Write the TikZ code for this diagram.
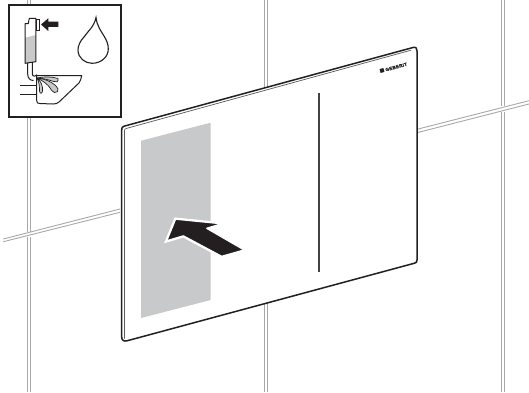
\documentclass[tikz,border=0pt]{standalone}
\usepackage{fontspec}
\setmainfont{Liberation Sans}
\newfontfamily\logofont[FakeBold=1.2,LetterSpace=6]{Liberation Sans Bold}
\definecolor{tile}{HTML}{A8A8A8}
\definecolor{panelgray}{HTML}{C8C9CA}
\definecolor{ink}{HTML}{231F20}
\tikzset{
  tileline/.style={draw=tile,line width=.9pt},
  plateedge/.style={draw=ink,line width=1.5pt,line join=round},
  plateinner/.style={draw=ink!75,line width=.7pt},
  iconline/.style={draw=ink,line width=1pt,line join=round},
  water/.style={draw=ink,line width=.7pt,fill=panelgray,line join=round}
}
\begin{document}
\begin{tikzpicture}[x=1pt,y=-1pt]
\useasboundingbox (0,0) rectangle (529,392);
% wall tile joints
\foreach \x in {27.2,30}{
  \draw[tileline] (\x,0) -- (\x,231.5);
  \draw[tileline] (\x,236.5) -- (\x,392);
}
\foreach \x in {264.3,267}{
  \draw[tileline] (\x,0) -- (\x,392);
}
\foreach \x in {501.8,504.4}{
  \draw[tileline] (\x,0) -- (\x,106);
  \draw[tileline] (\x,112) -- (\x,392);
}
\draw[tileline] (3.3,239) -- (120,209);
\draw[tileline] (3.3,241.7) -- (120,212.3);
\draw[tileline] (417,129.3) -- (529,100.7);
\draw[tileline] (417,132.7) -- (529,104);
% plate
\path[fill=white,draw=none] (121.7,127) -- (415,47) -- (417,50) -- (417,262) -- (125,341) -- (121.7,338) -- cycle;
\draw[plateedge] (121.7,130) .. controls (121.7,127.5) and (122,127) .. (124,126.2) -- (413,47.5) .. controls (416,46.8) and (417,48) .. (417,51) -- (417,260) .. controls (417,262) and (416.5,262.6) .. (414.5,263.2) -- (127,340.8) .. controls (124,341.5) and (121.7,340.5) .. (121.7,337) -- cycle;
\draw[plateinner] (124.4,338.5) -- (124.4,131) .. controls (124.4,129.5) and (125,128.8) .. (126.5,128.4) -- (411,50.2);
% slot
\draw[draw=ink!85,line width=1.6pt] (319.2,93) -- (319.2,271.7);
% grey zone
\fill[panelgray] (141,140.7) -- (210.7,122.7) -- (210.7,300) -- (141,318) -- cycle;
% big arrow
\path[fill=ink,draw=white,line width=1.6pt,line join=round,preaction={draw=white,line width=3pt}] (175.5,219) -- (222.5,223.7) -- (207,228.3) -- (244.5,250) -- (221.7,256.5) -- (183.3,236) -- (166.5,241) -- cycle;
% logo
\fill[ink,rotate around={15:(382,70.5)}] (380,68.5) rectangle (384,72.5);
\node[rotate=15,inner sep=0pt,font=\logofont\fontsize{4.6}{5}\selectfont,text=ink] (logo) at (396.2,67) {GEBERIT};
% inset
\draw[draw=ink,line width=1.6pt,fill=white] (8.7,4.7) rectangle (120.7,116.7);
% cistern
\fill[panelgray] (25,37.8) -- (35.7,35) -- (35.7,61.7) -- (25,63.3) -- cycle;
\draw[iconline] (25,63.3) -- (25,23.5) -- (28.3,23.5) -- (29.3,18.3) -- (35.8,18.3) -- (35.8,61.7) -- cycle;
\draw[draw=ink,line width=.8pt] (36,19.5) rectangle (39.3,30.7);
\fill[ink] (41,24.5) -- (48.3,18.3) -- (48.3,21.7) -- (58.3,21.7) -- (58.3,26.9) -- (48.3,26.9) -- (48.3,31) -- cycle;
% pipe
\draw[iconline] (27.7,63) -- (27.7,74) .. controls (27.7,78) and (30,80.5) .. (33.5,80.5);
\draw[iconline] (32.3,62) -- (32.3,73.5) .. controls (32.3,75.5) and (33,76.2) .. (34.5,76.2) -- (36.7,75);
% wall pipes
\draw[iconline] (20,85) -- (36.4,85);
\draw[iconline] (20,94.3) -- (36.4,94.3);
% bowl
\draw[iconline] (36.7,74.5) -- (36.7,100.5) .. controls (36.7,103) and (37.5,103.5) .. (40,103.5) -- (53,104) .. controls (56,104) and (57,103.5) .. (59,102) -- (79,83) .. controls (80.5,81) and (81,79) .. (81.7,75.5) -- (36.7,75.5);
% water
\path[water] (37,78) .. controls (44,76.5) and (52,76.5) .. (58,78.5) .. controls (58.5,80) and (58,81.5) .. (57,81.8) .. controls (52,82) and (50,79) .. (37,78) -- cycle;
\path[water] (37,78) .. controls (46,79) and (55,83) .. (58,89) .. controls (58.5,91) and (57,93) .. (54.5,92.5) .. controls (50,91.5) and (52,85) .. (37,78) -- cycle;
\path[water] (37,78) .. controls (41,81) and (43,86) .. (42.5,91) .. controls (42,94) and (40,94) .. (39.5,91) .. controls (39.5,87) and (39.5,83) .. (37,78) -- cycle;
% drop
\draw[draw=ink,line width=1.1pt,line join=miter] (96,17.5) .. controls (94,27) and (88,31) .. (84,37) .. controls (80,41) and (78,46) .. (78,50) .. controls (78,58) and (85,63.3) .. (92,63.3) .. controls (101,63.3) and (108.3,57) .. (108.3,49) .. controls (108.3,44) and (106.5,40) .. (104,36) .. controls (101,31) and (97,26) .. (96,17.5) -- cycle;
\end{tikzpicture}
\end{document}
